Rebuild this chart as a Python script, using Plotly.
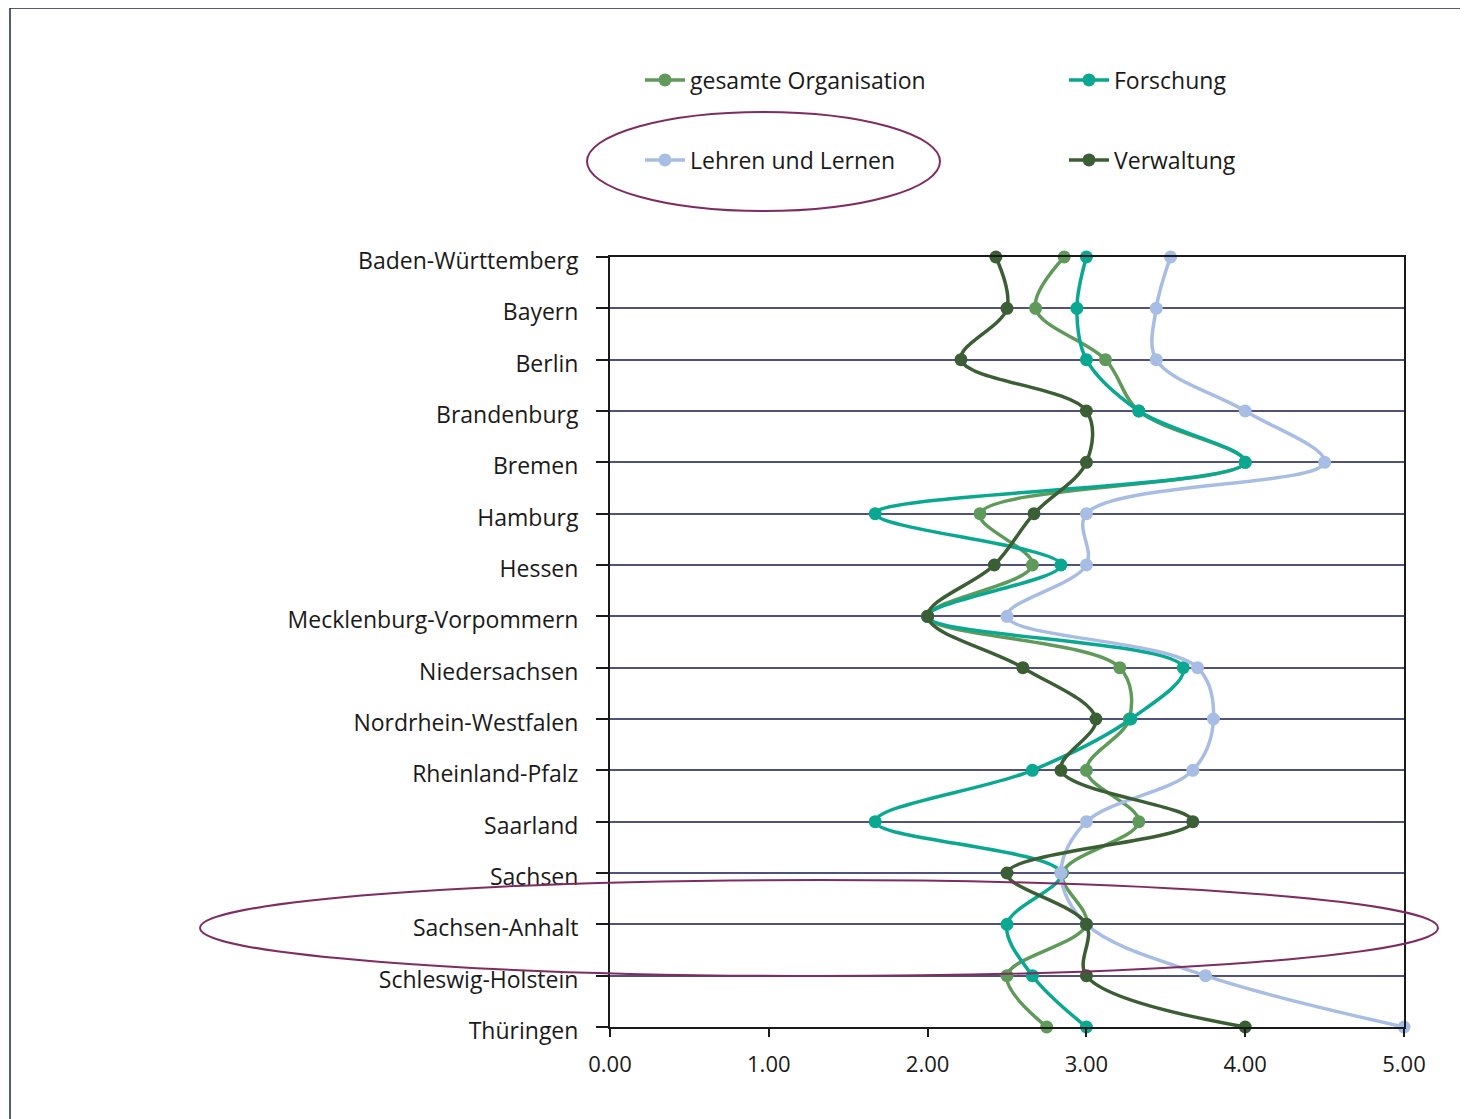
import plotly.graph_objects as go

states = ["Baden-Württemberg", "Bayern", "Berlin", "Brandenburg", "Bremen", "Hamburg",
          "Hessen", "Mecklenburg-Vorpommern", "Niedersachsen", "Nordrhein-Westfalen",
          "Rheinland-Pfalz", "Saarland", "Sachsen", "Sachsen-Anhalt", "Schleswig-Holstein",
          "Thüringen"]

gesamte = [2.86, 2.68, 3.12, 3.33, 4.00, 2.33, 2.66, 2.00, 3.21, 3.27, 3.00, 3.33, 2.85, 3.00, 2.50, 2.75]
forschung = [3.00, 2.94, 3.00, 3.33, 4.00, 1.67, 2.84, 2.00, 3.61, 3.28, 2.66, 1.67, 2.84, 2.50, 2.66, 3.00]
lehren = [3.53, 3.44, 3.44, 4.00, 4.50, 3.00, 3.00, 2.50, 3.70, 3.80, 3.67, 3.00, 2.84, 3.00, 3.75, 5.00]
verwaltung = [2.43, 2.50, 2.21, 3.00, 3.00, 2.67, 2.42, 2.00, 2.60, 3.06, 2.84, 3.67, 2.50, 3.00, 3.00, 4.00]

series = [
    ("gesamte Organisation", gesamte, "#5f9a5a", "legend"),
    ("Forschung", forschung, "#0aa891", "legend2"),
    ("Lehren und Lernen", lehren, "#a8bde3", "legend3"),
    ("Verwaltung", verwaltung, "#3b5e34", "legend4"),
]

# page body adds an 8px margin; work in screen pixels and compensate
OFF = 8
SW, SH = 1468, 1119
W, H = SW - OFF, SH - OFF
PL, PR, PT, PB = 610, 1404, 257, 1027  # plot area, screen pixels


def px(x):
    return (x - PL) / (PR - PL)


def py(y):
    return (PB - y) / (PB - PT)


FONT = "Open Sans"
FS = 23
TXT = "#1a1a1a"

fig = go.Figure()
for name, vals, color, lg in series:
    fig.add_trace(go.Scatter(
        x=vals, y=states, name=name, mode="lines+markers",
        line=dict(color=color, width=3.5, shape="spline", smoothing=1),
        marker=dict(color=color, size=13),
        cliponaxis=False, legend=lg,
    ))

legend_common = dict(font=dict(family=FONT, size=FS, color=TXT),
                     bgcolor="rgba(0,0,0,0)", xanchor="left", yanchor="middle",
                     itemwidth=40)
fig.update_layout(
    width=W, height=H,
    margin=dict(l=PL - OFF, r=SW - PR, t=PT - OFF, b=SH - PB),
    paper_bgcolor="white", plot_bgcolor="white",
    font=dict(family=FONT, size=FS, color=TXT),
    legend=dict(x=px(640), y=py(80), **legend_common),
    legend2=dict(x=px(1064), y=py(80), **legend_common),
    legend3=dict(x=px(640), y=py(160), **legend_common),
    legend4=dict(x=px(1064), y=py(160), **legend_common),
    xaxis=dict(range=[0, 5], dtick=1, tick0=0, tickformat=".2f",
               showgrid=False, zeroline=False,
               showline=True, linecolor=TXT, linewidth=2, mirror=True,
               ticks="outside", ticklen=8, tickcolor=TXT, tickwidth=2,
               ticklabelstandoff=9,
               tickfont=dict(family=FONT, size=FS - 1, color=TXT)),
    yaxis=dict(type="category", categoryorder="array", categoryarray=states,
               range=[len(states) - 1, 0],
               showgrid=True, gridcolor="#50517c", gridwidth=2,
               showline=True, linecolor=TXT, linewidth=2, mirror=True,
               ticks="outside", ticklen=12, tickcolor=TXT, tickwidth=2,
               ticklabelstandoff=13, ticklabelshift=-4,
               tickfont=dict(family=FONT, size=FS, color=TXT)),
    showlegend=True,
)

# outer chart border
fig.add_shape(type="rect", xref="paper", yref="paper",
              x0=px(10), x1=px(1480), y0=py(1130), y1=py(8),
              line=dict(color="#1f2640", width=1.5), layer="below")

# highlight ellipses
ell = dict(color="#7e2c62", width=2)
fig.add_shape(type="circle", xref="paper", yref="paper",
              x0=px(587), x1=px(940), y0=py(211), y1=py(112), line=ell)
fig.add_shape(type="circle", xref="paper", yref="paper",
              x0=px(200), x1=px(1438), y0=py(976), y1=py(880), line=ell)

fig.write_html("out.html")
